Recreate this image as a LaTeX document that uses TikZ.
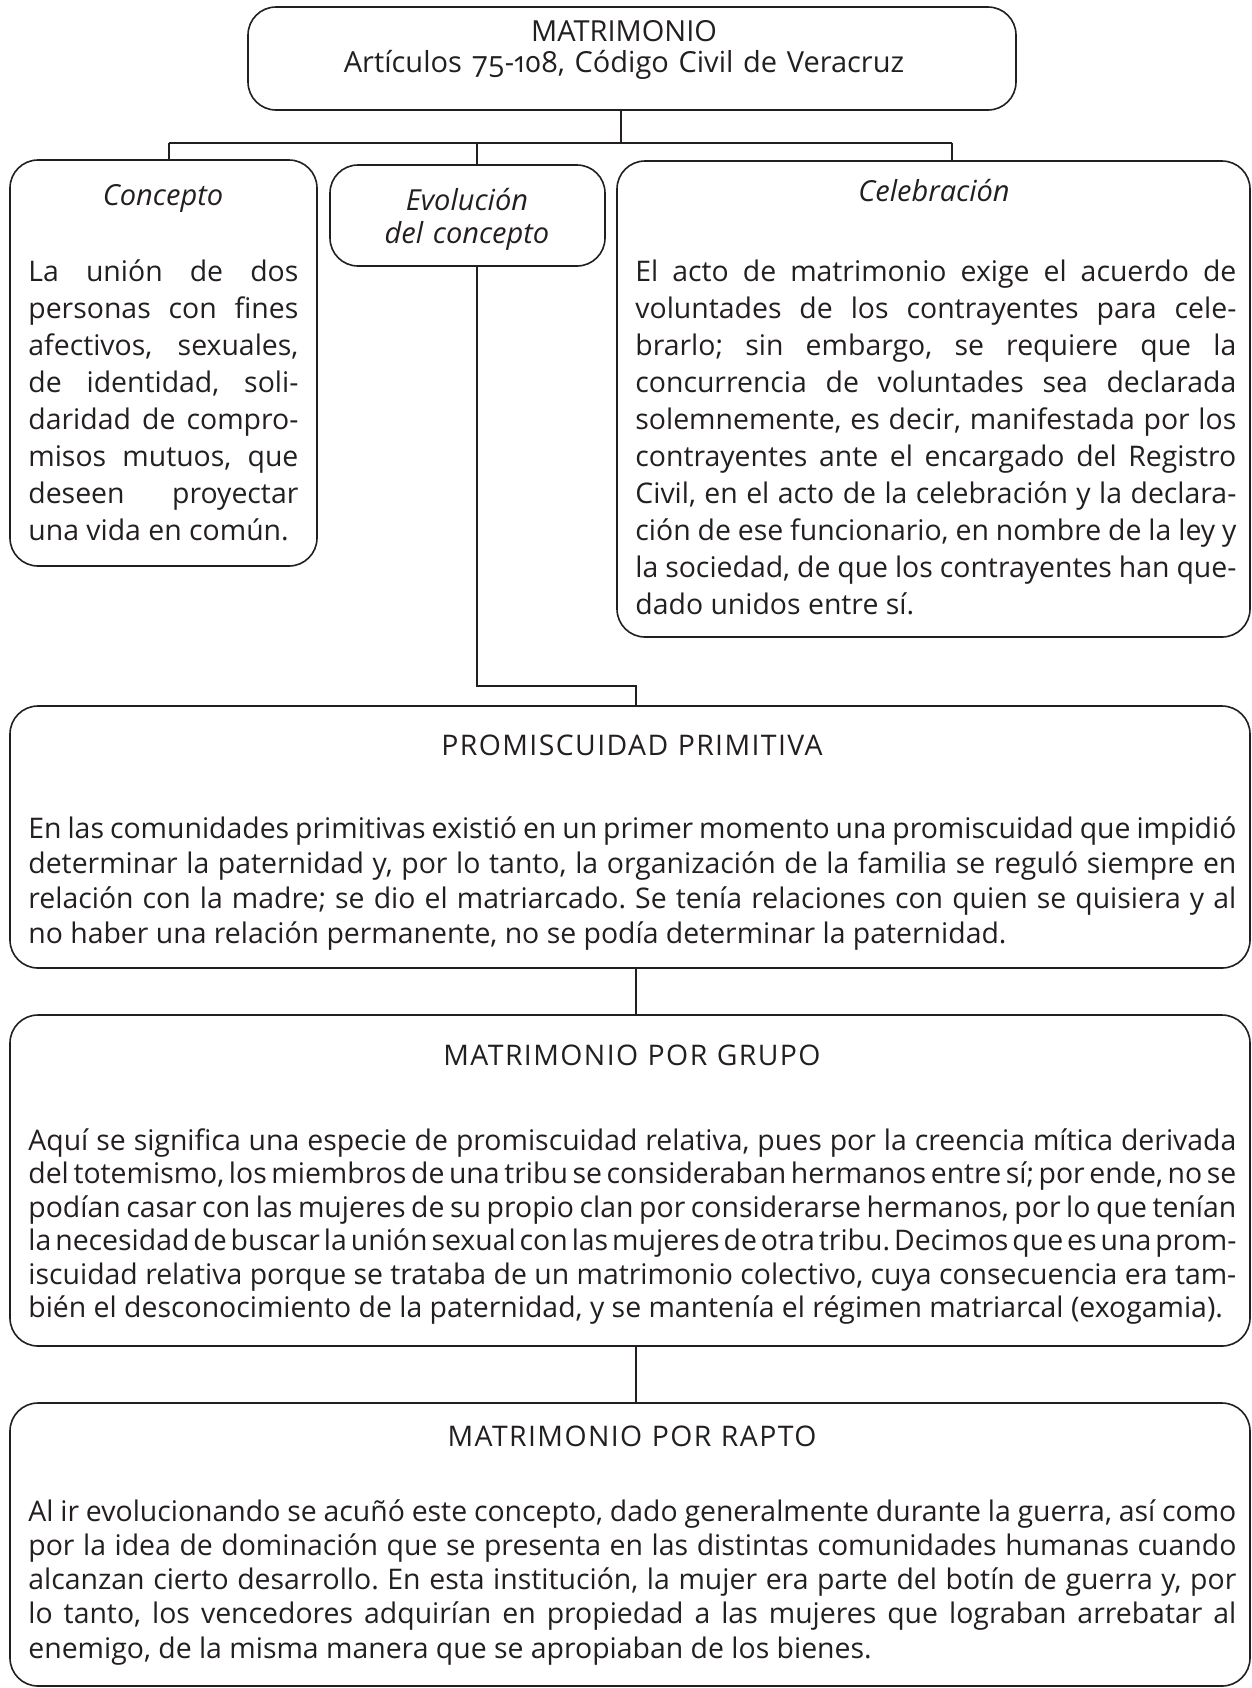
\documentclass[tikz,border=0pt]{standalone}
\usepackage{fontspec}
\setmainfont{Open Sans}
\usetikzlibrary{fit}
\definecolor{ink}{HTML}{231F20}
\tikzset{
  box/.style={draw=ink, line width=0.8pt, rounded corners=14pt, inner sep=0pt},
  txt/.style={text=ink, inner sep=0pt},
  body/.style={txt, align=justify, anchor=base west},
  ttl/.style={txt, align=center, anchor=base, text width=360pt},
  head/.style={ttl, font={\fontsize{14.2}{16.5}\selectfont\addfontfeature{LetterSpace=5}}},
  ital/.style={ttl, font={\fontsize{14.5}{16.5}\selectfont\itshape}},
  link/.style={draw=ink, line width=0.8pt},
}
\newcommand\bodyfont[2]{\fontsize{#1}{#2}\selectfont\frenchspacing\tolerance=10000\spaceskip=0.26em plus 0.8em minus 0.14em\relax}
\begin{document}
\begin{tikzpicture}[x=0.5pt,y=-0.5pt]
\useasboundingbox (0,0) rectangle (1252,1688);
% boxes
\node[box, fit={(248,7) (1016,110)}] (top) {};
\node[box, fit={(10,160) (317,566)}] (concepto) {};
\node[box, fit={(330,165) (605,266)}] (evol) {};
\node[box, fit={(617,161) (1250,637)}] (celeb) {};
\node[box, fit={(10,706) (1250,968)}] (promis) {};
\node[box, fit={(10,1015) (1250,1346)}] (grupo) {};
\node[box, fit={(10,1403) (1250,1686)}] (rapto) {};
% texts
\node[ttl, font={\fontsize{14.5}{15.5}\selectfont\addfontfeature{Numbers=OldStyle}}] (topT) at (624,41) {MATRIMONIO\\Artículos 75-108, Código Civil de Veracruz};
\node[ital, text width=140pt] (conceptoT) at (163,205) {Concepto};
\node[ital, text width=130pt] (evolT) at (467,210) {Evolución\\del concepto};
\node[ital, text width=300pt] (celebT) at (934,201) {Celebración};
\node[body, text width=135pt, font={\bodyfont{14.2}{18.5}}] (conceptoB) at (28,281) {La unión de dos\linebreak personas con fines\linebreak afectivos, sexuales,\linebreak de identidad, soli-\linebreak daridad de compro-\linebreak misos mutuos, que\linebreak deseen proyectar\linebreak una vida en común.};
\node[body, text width=300.5pt, font={\bodyfont{14.2}{18.5}}] (celebB) at (635,281) {El acto de matrimonio exige el acuerdo de\linebreak voluntades de los contrayentes para cele-\linebreak brarlo; sin embargo, se requiere que la\linebreak concurrencia de voluntades sea declarada\linebreak solemnemente, es decir, manifestada por los\linebreak contrayentes ante el encargado del Registro\linebreak Civil, en el acto de la celebración y la declara-\linebreak ción de ese funcionario, en nombre de la ley y\linebreak la sociedad, de que los contrayentes han que-\linebreak dado unidos entre sí.};
\node[head] (promisT) at (632,755) {PROMISCUIDAD PRIMITIVA};
\node[body, text width=604pt, font={\bodyfont{14.2}{17.5}}] (promisB) at (28,838) {En las comunidades primitivas existió en un primer momento una promiscuidad que impidió\linebreak determinar la paternidad y, por lo tanto, la organización de la familia se reguló siempre en\linebreak relación con la madre; se dio el matriarcado. Se tenía relaciones con quien se quisiera y al\linebreak no haber una relación permanente, no se podía determinar la paternidad.};
\node[head] (grupoT) at (632,1065) {MATRIMONIO POR GRUPO};
\node[body, text width=604pt, font={\bodyfont{14.2}{16.75}}] (grupoB) at (28,1150) {\parfillskip=0pt\relax Aquí se significa una especie de promiscuidad relativa, pues por la creencia mítica derivada\linebreak del totemismo, los miembros de una tribu se consideraban hermanos entre sí; por ende, no se\linebreak podían casar con las mujeres de su propio clan por considerarse hermanos, por lo que tenían\linebreak la necesidad de buscar la unión sexual con las mujeres de otra tribu. Decimos que es una prom-\linebreak iscuidad relativa porque se trataba de un matrimonio colectivo, cuya consecuencia era tam-\linebreak bién el desconocimiento de la paternidad, y se mantenía el régimen matriarcal (exogamia).};
\node[head] (raptoT) at (632,1446) {MATRIMONIO POR RAPTO};
\node[body, text width=604pt, font={\bodyfont{14.2}{17.15}}] (raptoB) at (28,1521) {Al ir evolucionando se acuñó este concepto, dado generalmente durante la guerra, así como\linebreak por la idea de dominación que se presenta en las distintas comunidades humanas cuando\linebreak alcanzan cierto desarrollo. En esta institución, la mujer era parte del botín de guerra y, por\linebreak lo tanto, los vencedores adquirían en propiedad a las mujeres que lograban arrebatar al\linebreak enemigo, de la misma manera que se apropiaban de los bienes.};
% connectors
\coordinate (busL) at (169,143);
\coordinate (busM) at (477,143);
\coordinate (busR) at (952,143);
\coordinate (trunk) at (621,143);
\coordinate (elbow) at (477,686);
\coordinate (spine) at (636,0);
\draw[link] (top.south -| trunk) -- (trunk);
\draw[link] (busL) -- (busR);
\draw[link] (busL) -- (busL |- concepto.north);
\draw[link] (busM) -- (busM |- evol.north);
\draw[link] (busR) -- (busR |- celeb.north);
\draw[link] (evol.south -| elbow) -- (elbow) -| (promis.north -| spine);
\draw[link] (promis.south -| spine) -- (grupo.north -| spine);
\draw[link] (grupo.south -| spine) -- (rapto.north -| spine);
\end{tikzpicture}
\end{document}
